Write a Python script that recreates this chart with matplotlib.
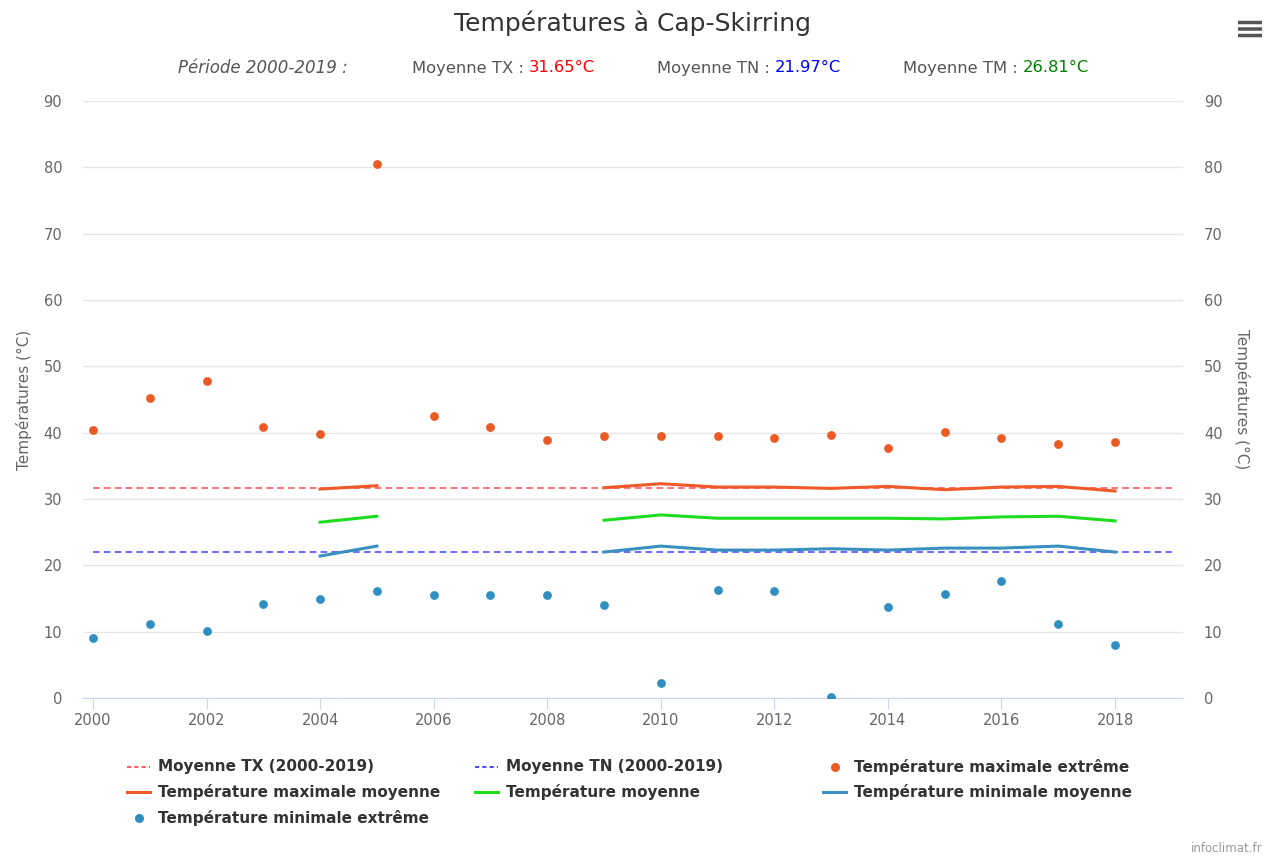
import matplotlib
matplotlib.use("Agg")
import matplotlib.pyplot as plt
from matplotlib.lines import Line2D
from matplotlib.patches import FancyBboxPatch
import numpy as np

plt.rcParams['font.family'] = ['DejaVu Sans']

years = list(range(2000, 2019))
tx_ext = [40.4, 45.2, 47.8, 40.9, 39.8, 80.5, 42.5, 40.9, 38.9, 39.5,
          39.5, 39.5, 39.2, 39.7, 37.7, 40.1, 39.2, 38.3, 38.6]
tn_ext = [9.0, 11.2, 10.1, 14.2, 14.9, 16.1, 15.5, 15.5, 15.5, 14.0,
          2.3, 16.3, 16.1, 0.1, 13.7, 15.7, 17.6, 11.2, 8.0]
nan = np.nan
tx_moy = [nan, nan, nan, nan, 31.5, 32.0, nan, nan, nan, 31.7,
          32.3, 31.8, 31.8, 31.6, 31.9, 31.4, 31.8, 31.9, 31.2]
tm_moy = [nan, nan, nan, nan, 26.5, 27.4, nan, nan, nan, 26.8,
          27.6, 27.1, 27.1, 27.1, 27.1, 27.0, 27.3, 27.4, 26.7]
tn_moy = [nan, nan, nan, nan, 21.4, 22.9, nan, nan, nan, 22.0,
          22.9, 22.3, 22.3, 22.5, 22.3, 22.6, 22.6, 22.9, 22.0]
mean_tx = 31.65
mean_tn = 21.97
mean_tm = 26.81
period = (2000, 2019)

c_txext = '#ec5a24'
c_tnext = '#2f8fc0'
c_txmoy = '#ef5a28'
c_tm = '#1fdc1f'
c_tnmoy = '#3a8fc0'
c_dtx = '#ff5a6a'
c_dtn = '#5050ff'

W, H = 1270, 857
fig = plt.figure(figsize=(W / 100, H / 100), dpi=100)
ax = fig.add_axes([83 / W, 1 - 698 / H, 1100 / W, 597 / H])

ax.plot(period, [mean_tx, mean_tx], color=c_dtx, lw=1.2, ls=(0, (4, 2.5)), zorder=2)
ax.plot(period, [mean_tn, mean_tn], color=c_dtn, lw=1.2, ls=(0, (4, 2.5)), zorder=2)
ax.plot(years, tx_moy, color=c_txmoy, lw=2.2, zorder=3)
ax.plot(years, tm_moy, color=c_tm, lw=2.2, zorder=3)
ax.plot(years, tn_moy, color=c_tnmoy, lw=2.2, zorder=3)
ax.scatter(years, tx_ext, s=40, color=c_txext, zorder=4, linewidths=0)
ax.scatter(years, tn_ext, s=40, color=c_tnext, zorder=4, linewidths=0)

ax.set_xlim(1999.824, 2019.197)
ax.set_ylim(0, 90)
ax.set_yticks(range(0, 91, 10))
ax.set_xticks(range(2000, 2019, 2))
ax.grid(axis='y', color='#e6e6e6', lw=1)
ax.set_axisbelow(True)
for s in ['top', 'left', 'right']:
    ax.spines[s].set_visible(False)
ax.spines['bottom'].set_color('#ccd6eb')
ax.tick_params(axis='y', length=0, labelsize=10.5, labelcolor='#666666', pad=15)
ax.tick_params(axis='x', length=8, color='#ccd6eb', labelsize=10.5, labelcolor='#666666', pad=3)
ax.set_ylabel('Températures (°C)', color='#666666', fontsize=11, labelpad=8)

ax2 = ax.twinx()
ax2.set_ylim(0, 90)
ax2.set_yticks(range(0, 91, 10))
for s in ['top', 'left', 'right', 'bottom']:
    ax2.spines[s].set_visible(False)
ax2.tick_params(axis='y', length=0, labelsize=10.5, labelcolor='#666666', pad=15)
ax2.set_ylabel('Températures (°C)', color='#666666', fontsize=11, rotation=270, labelpad=20)

# Title and subtitle
fig.text(633 / W, 1 - 23 / H, 'Températures à Cap-Skirring', ha='center', va='center',
         fontsize=18, color='#333333')
sub_y = 1 - 68 / H
fig.text(178 / W, sub_y, 'Période 2000-2019 :', ha='left', va='center', fontsize=12,
         color='#555555', style='italic')
def sub(x, label, val, col):
    t = fig.text(x / W, sub_y, label, ha='left', va='center', fontsize=11.8, color='#555555')
    fig.canvas.draw()
    bb = t.get_window_extent()
    fig.text(bb.x1 / W, sub_y, val, ha='left', va='center', fontsize=11.8, color=col)
sub(412, 'Moyenne TX : ', f'{mean_tx:.2f}°C', '#ff0000')
sub(657, 'Moyenne TN : ', f'{mean_tn:.2f}°C', '#0000ff')
sub(903, 'Moyenne TM : ', f'{mean_tm:.2f}°C', '#008000')

# Legend items (handle start x, row centre y)
legend_items = [
    (127, 767, dict(color=c_dtx, lw=1.5, ls=(0, (2, 1.5))), 'Moyenne TX (2000-2019)'),
    (475, 767, dict(color=c_dtn, lw=1.5, ls=(0, (2, 1.5))), 'Moyenne TN (2000-2019)'),
    (823, 767, dict(color=c_txext, marker='o', ls='none', ms=6.5, mew=0), 'Température maximale extrême'),
    (127, 792, dict(color=c_txmoy, lw=2.2), 'Température maximale moyenne'),
    (475, 792, dict(color=c_tm, lw=2.2), 'Température moyenne'),
    (823, 792, dict(color=c_tnmoy, lw=2.2), 'Température minimale moyenne'),
    (127, 818, dict(color=c_tnext, marker='o', ls='none', ms=6.5, mew=0), 'Température minimale extrême'),
]
for x, y, st, label in legend_items:
    if st.get('marker'):
        xs = [(x + 11.5) / W]
        ys = [1 - y / H]
    else:
        xs = [x / W, (x + 23) / W]
        ys = [1 - y / H, 1 - y / H]
    fig.add_artist(Line2D(xs, ys, transform=fig.transFigure, **st))
    fig.text((x + 31) / W, 1 - y / H, label, ha='left', va='center', fontsize=11,
             fontweight='bold', color='#333333')

fig.text(1263 / W, 1 - 849 / H, 'infoclimat.fr', ha='right', va='center', fontsize=8.5,
         color='#999999')

# Menu icon
for yy in (22.5, 29, 35.5):
    fig.patches.append(FancyBboxPatch((1238 / W, 1 - (yy + 1.75) / H), 24 / W, 3.5 / H,
                                      boxstyle='round,pad=0', transform=fig.transFigure,
                                      facecolor='#555555', edgecolor='none'))

fig.savefig('out.png', dpi=100)
